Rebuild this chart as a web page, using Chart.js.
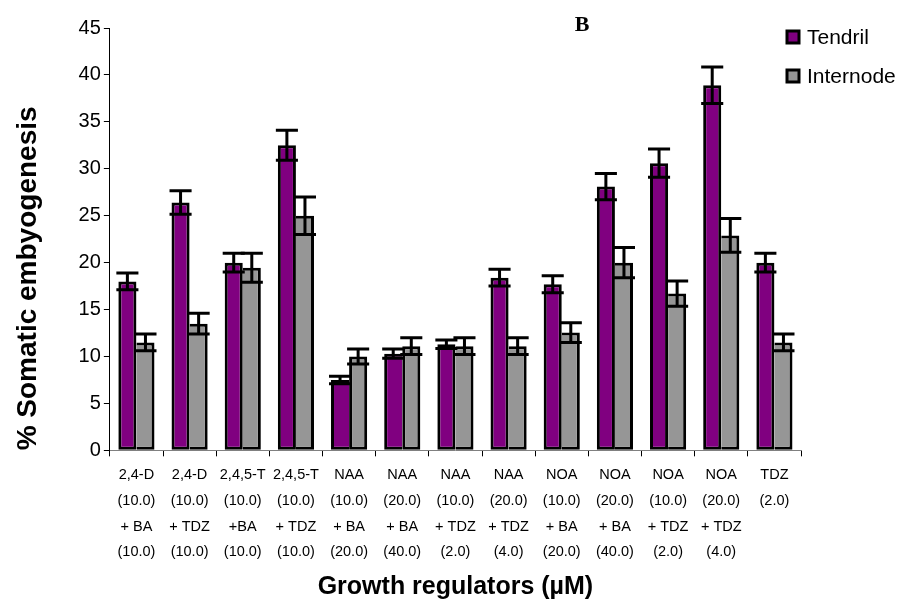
<!DOCTYPE html>
<html>
<head>
<meta charset="utf-8">
<script src="https://cdn.jsdelivr.net/npm/chart.js@4.4.0/dist/chart.umd.min.js"></script>
<style>
  html, body { margin: 0; padding: 0; background: #fff; }
  #wrap { width: 905px; height: 606px; }
</style>
</head>
<body>
<div id="wrap"><canvas id="myChart"></canvas></div>
<script>
// DATA ------------------------------------------------------------
var categories = [
  ['2,4-D', '(10.0)', '+ BA', '(10.0)'],
  ['2,4-D', '(10.0)', '+ TDZ', '(10.0)'],
  ['2,4,5-T', '(10.0)', '+BA', '(10.0)'],
  ['2,4,5-T', '(10.0)', '+ TDZ', '(10.0)'],
  ['NAA', '(10.0)', '+ BA', '(20.0)'],
  ['NAA', '(20.0)', '+ BA', '(40.0)'],
  ['NAA', '(10.0)', '+ TDZ', '(2.0)'],
  ['NAA', '(20.0)', '+ TDZ', '(4.0)'],
  ['NOA', '(10.0)', '+ BA', '(20.0)'],
  ['NOA', '(20.0)', '+ BA', '(40.0)'],
  ['NOA', '(10.0)', '+ TDZ', '(2.0)'],
  ['NOA', '(20.0)', '+ TDZ', '(4.0)'],
  ['TDZ', '(2.0)']
];
var tendril      = [18.0, 26.4, 20.0, 32.5, 7.5, 10.3, 11.3, 18.4, 17.7, 28.1, 30.6, 38.9, 20.0];
var tendrilErr   = [0.9, 1.25, 1.0, 1.6, 0.4, 0.5, 0.45, 0.9, 0.9, 1.4, 1.5, 1.95, 1.0];
var internode    = [11.5, 13.5, 19.45, 25.0, 10.0, 11.1, 11.1, 11.1, 12.55, 20.0, 16.7, 22.9, 11.5];
var internodeErr = [0.9, 1.1, 1.55, 2.0, 0.8, 0.9, 0.9, 0.9, 1.05, 1.6, 1.35, 1.8, 0.9];
var yMin = 0, yMax = 45, yStep = 5;

var FONT = "'Liberation Sans', Arial, sans-serif";

// shared border: taller bar keeps it, shorter bar drops it
function tendrilBorder(c) {
  var i = c.dataIndex;
  return { top: 3, left: 3, bottom: 3, right: tendril[i] >= internode[i] ? 3 : 0 };
}
function internodeBorder(c) {
  var i = c.dataIndex;
  return { top: 3, right: 3, bottom: 3, left: internode[i] > tendril[i] ? 3 : 0 };
}

// ERROR BARS, LEGEND, PANEL LETTER --------------------------------
var extras = {
  id: 'extras',
  afterDatasetsDraw: function (chart) {
    var ctx = chart.ctx;
    var y = chart.scales.y;
    ctx.save();
    ctx.strokeStyle = '#000';
    ctx.lineWidth = 3;
    chart.data.datasets.forEach(function (ds, di) {
      var meta = chart.getDatasetMeta(di);
      meta.data.forEach(function (bar, i) {
        var v = ds.data[i], e = ds.errors[i];
        var top = y.getPixelForValue(v + e);
        var bot = y.getPixelForValue(v - e);
        var half = bar.width / 2 + 2;
        ctx.beginPath();
        ctx.moveTo(bar.x, top); ctx.lineTo(bar.x, bot);
        ctx.moveTo(bar.x - half, top); ctx.lineTo(bar.x + half, top);
        ctx.moveTo(bar.x - half, bot); ctx.lineTo(bar.x + half, bot);
        ctx.stroke();
      });
    });
    ctx.restore();
  },
  afterDraw: function (chart) {
    var ctx = chart.ctx;
    ctx.save();
    // legend
    var lx = 787, ly = [37, 76];
    chart.data.datasets.forEach(function (ds, di) {
      ctx.fillStyle = ds.backgroundColor;
      ctx.fillRect(lx, ly[di] - 6, 12, 12);
      ctx.strokeStyle = '#000';
      ctx.lineWidth = 3;
      ctx.strokeRect(lx, ly[di] - 6, 12, 12);
      ctx.fillStyle = '#000';
      ctx.font = '21px ' + FONT;
      ctx.textBaseline = 'middle';
      ctx.textAlign = 'left';
      ctx.fillText(ds.label, lx + 20, ly[di] + 1);
    });
    // panel letter
    ctx.font = "bold 22px 'Liberation Serif', 'Times New Roman', serif";
    ctx.textAlign = 'center';
    ctx.textBaseline = 'middle';
    ctx.fillText('B', 582, 25);
    ctx.restore();
  }
};

var ctx = document.getElementById('myChart').getContext('2d');
var myChart = new Chart(ctx, {
  type: 'bar',
  data: {
    labels: categories,
    datasets: [{
      label: 'Tendril',
      data: tendril,
      errors: tendrilErr,
      backgroundColor: '#800080',
      borderColor: '#000',
      borderWidth: tendrilBorder,
      borderSkipped: false
    }, {
      label: 'Internode',
      data: internode,
      errors: internodeErr,
      backgroundColor: '#969696',
      borderColor: '#000',
      borderWidth: internodeBorder,
      borderSkipped: false
    }]
  },
  options: {
    responsive: true,
    maintainAspectRatio: false,
    animation: false,
    categoryPercentage: 0.68,
    barPercentage: 1.0,
    layout: { padding: { left: 11, right: 104, top: 28, bottom: 4 } },
    plugins: {
      legend: { display: false },
      tooltip: { enabled: false }
    },
    scales: {
      x: {
        grid: { display: true, offset: true, drawOnChartArea: false, color: '#000', tickLength: 6 },
        border: { color: '#808080', width: 1 },
        ticks: {
          color: '#000',
          maxRotation: 0,
          autoSkip: false,
          padding: 6,
          font: { family: FONT, size: 14.5, lineHeight: 1.77 }
        },
        title: {
          display: true,
          text: 'Growth regulators (µM)',
          color: '#000',
          font: { family: FONT, size: 25, weight: 'bold' },
          padding: { top: 1, bottom: 0 }
        }
      },
      y: {
        min: yMin,
        max: yMax,
        grid: { display: true, drawOnChartArea: false, color: '#000', tickLength: 6 },
        border: { color: '#000', width: 1 },
        ticks: {
          stepSize: yStep,
          color: '#000',
          padding: 3,
          font: { family: FONT, size: 20 }
        },
        title: {
          display: true,
          align: 'start',
          text: '% Somatic embyogenesis',
          color: '#000',
          font: { family: FONT, size: 28, weight: 'bold' },
          padding: { top: 0, bottom: 31 }
        }
      }
    }
  },
  plugins: [extras]
});
</script>
</body>
</html>
